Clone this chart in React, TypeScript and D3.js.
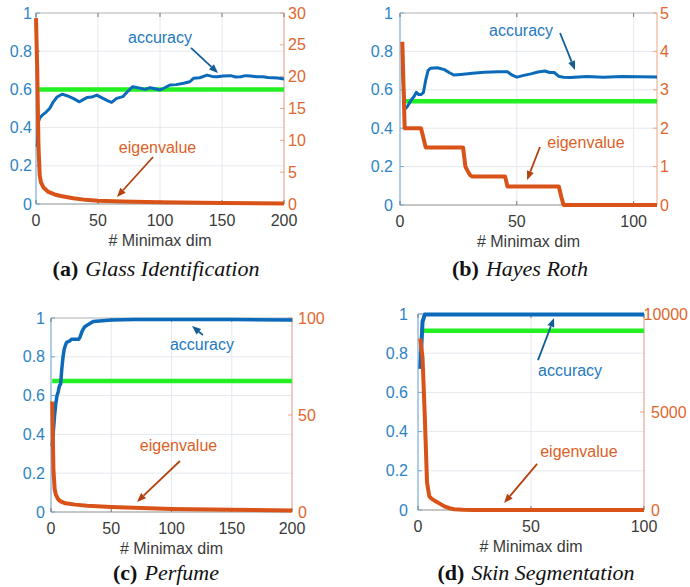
import React from 'react';
import * as d3 from 'd3';

// ---------------- data ----------------
// (a) Glass Identification
const glassAccX = [1, 2, 3, 5, 8, 11, 14, 17, 21, 25, 30, 35, 41, 45, 49, 54, 58, 61, 65, 70, 74, 78, 84, 88, 92, 96, 100, 103, 108, 113, 119, 124, 127, 132, 138, 142, 146, 151, 157, 161, 165, 169, 173, 178, 183, 187, 191, 195, 200];
const glassAccY = [0.30, 0.43, 0.45, 0.465, 0.48, 0.50, 0.535, 0.56, 0.575, 0.567, 0.553, 0.535, 0.557, 0.56, 0.57, 0.553, 0.54, 0.532, 0.553, 0.562, 0.59, 0.614, 0.606, 0.60, 0.609, 0.603, 0.597, 0.606, 0.623, 0.625, 0.632, 0.64, 0.658, 0.661, 0.675, 0.668, 0.666, 0.67, 0.672, 0.665, 0.666, 0.672, 0.67, 0.666, 0.666, 0.662, 0.661, 0.66, 0.655];
const glassEigX = [0, 1, 2, 3, 4, 6, 10, 15, 20, 30, 40, 50, 70, 100, 150, 200];
const glassEigY = [29.2, 21, 9, 4.5, 3.4, 2.6, 1.9, 1.5, 1.25, 0.9, 0.65, 0.5, 0.38, 0.28, 0.15, 0.08];
const glassBaseline = 0.6;
const glassBaselineX = [2, 200];
const glassXTicks = [0, 50, 100, 150, 200];
const glassRightTicks = [0, 5, 10, 15, 20, 25, 30];

// (b) Hayes Roth
const hayesAccX = [1, 2, 3, 4, 5, 6, 7, 8, 9, 10, 11, 12, 13, 16, 19, 21, 23, 26, 31, 36, 42, 46, 48, 50, 53, 56, 59, 62, 64, 66, 68, 70, 73, 80, 87, 95, 102, 110];
const hayesAccY = [0.72, 0.50, 0.51, 0.53, 0.55, 0.565, 0.587, 0.575, 0.575, 0.585, 0.65, 0.70, 0.712, 0.715, 0.705, 0.69, 0.677, 0.68, 0.686, 0.691, 0.694, 0.694, 0.676, 0.666, 0.675, 0.683, 0.693, 0.698, 0.69, 0.69, 0.67, 0.665, 0.664, 0.669, 0.666, 0.669, 0.668, 0.667];
const hayesEigX = [1, 2, 9, 10, 11, 27, 28, 29, 30, 31, 45, 46, 68, 69, 70, 110];
const hayesEigY = [4.25, 2.0, 2.0, 1.75, 1.5, 1.5, 1.0, 0.88, 0.78, 0.74, 0.74, 0.48, 0.48, 0.22, 0, 0];
const hayesBaseline = 0.54;
const hayesBaselineX = [2, 110];
const hayesXTicks = [0, 50, 100];
const hayesRightTicks = [0, 1, 2, 3, 4, 5];

// (c) Perfume
const perfumeAccX = [1, 2, 3, 4, 5, 6, 7, 8, 9, 10, 11, 12, 13, 15, 17, 20, 23, 24, 26, 28, 31, 35, 40, 50, 70, 100, 150, 200];
const perfumeAccY = [0.34, 0.42, 0.50, 0.56, 0.60, 0.62, 0.65, 0.66, 0.74, 0.80, 0.84, 0.86, 0.875, 0.88, 0.89, 0.89, 0.89, 0.90, 0.935, 0.955, 0.967, 0.982, 0.985, 0.99, 0.992, 0.992, 0.992, 0.99];
const perfumeEigX = [1, 2, 3, 4, 6, 8, 12, 20, 30, 50, 75, 100, 150, 200];
const perfumeEigY = [57, 22, 12, 9, 6.5, 5.5, 4.5, 3.8, 3.2, 2.6, 2.0, 1.6, 1.1, 0.8];
const perfumeBaseline = 0.675;
const perfumeBaselineX = [1, 200];
const perfumeXTicks = [0, 50, 100, 150, 200];
const perfumeRightTicks = [0, 50, 100];

// (d) Skin Segmentation
const skinAccX = [1, 2, 3, 100];
const skinAccY = [0.72, 0.96, 0.998, 0.998];
const skinEigX = [1, 2, 3, 4, 5, 6, 8, 10, 12, 14, 16, 20, 25, 100];
const skinEigY = [8750, 7800, 4800, 1400, 700, 580, 430, 300, 170, 90, 40, 10, 0, 0];
const skinBaseline = 0.915;
const skinBaselineX = [1, 100];
const skinXTicks = [0, 50, 100];
const skinRightTicks = [0, 5000, 10000];

const leftTicks = [0, 0.2, 0.4, 0.6, 0.8, 1];

// ---------------- style ----------------
const SANS = "'Liberation Sans', Arial, Helvetica, sans-serif";
const SERIF = "'Liberation Serif', 'Times New Roman', Times, serif";
const BLUE = '#0B6BBA';
const ORANGE = '#D95319';
const GREEN = '#22F022';
const BLUE_TXT = '#2C84C6';
const ORANGE_TXT = '#E0662C';
const GRID = '#E4E8EE';
const BOX = '#BDBDBD';
const ACC_ARROW = '#145E97';
const EIG_ARROW = '#B3420F';

type Ann = { tx: number; ty: number; ax1: number; ay1: number; ax2: number; ay2: number };

type PanelProps = {
  box: { l: number; r: number; t: number; b: number };
  xMax: number;
  xTicks: number[];
  rightMax: number;
  rightTicks: number[];
  accX: number[];
  accY: number[];
  eigX: number[];
  eigY: number[];
  base: number;
  baseX: number[];
  accAnn: Ann;
  eigAnn: Ann;
  capLabel: string;
  capText: string;
  capX: number;
  capY: number;
  leftGap: number;
  rightGap: number;
  accWidth: number;
};

function arrow(x1: number, y1: number, x2: number, y2: number, color: string, key: string) {
  const len = 9;
  const w = 3.6;
  const a = Math.atan2(y2 - y1, x2 - x1);
  const bx = x2 - len * Math.cos(a);
  const by = y2 - len * Math.sin(a);
  const px = -Math.sin(a) * w;
  const py = Math.cos(a) * w;
  return (
    <g key={key}>
      <line x1={x1} y1={y1} x2={bx} y2={by} stroke={color} strokeWidth={1.8} />
      <polygon points={`${x2},${y2} ${bx + px},${by + py} ${bx - px},${by - py}`} fill={color} />
    </g>
  );
}

function fmtLeft(v: number) {
  return v === 0 ? '0' : v === 1 ? '1' : String(v);
}

function Panel(p: PanelProps) {
  const { l, r, t, b } = p.box;
  const xs = d3.scaleLinear().domain([0, p.xMax]).range([l, r]);
  const ys = d3.scaleLinear().domain([0, 1]).range([b, t]);
  const yr = d3.scaleLinear().domain([0, p.rightMax]).range([b, t]);
  const accLine = d3.line<number>().x((_, i) => xs(p.accX[i])).y((d) => ys(d));
  const eigLine = d3.line<number>().x((_, i) => xs(p.eigX[i])).y((d) => yr(d));
  const tl = 4;
  return (
    <g>
      {/* grid */}
      {p.xTicks.map((v) => (
        <line key={'gx' + v} x1={xs(v)} x2={xs(v)} y1={t} y2={b} stroke={GRID} strokeWidth={1} />
      ))}
      {leftTicks.map((v) => (
        <line key={'gy' + v} x1={l} x2={r} y1={ys(v)} y2={ys(v)} stroke={GRID} strokeWidth={1} />
      ))}
      {/* box */}
      <line x1={l} x2={r} y1={t} y2={t} stroke={BOX} strokeWidth={1} />
      <line x1={l} x2={r} y1={b} y2={b} stroke={'#9a9a9a'} strokeWidth={1} />
      <line x1={l} x2={l} y1={t} y2={b} stroke={'#6FA8D8'} strokeWidth={1} />
      <line x1={r} x2={r} y1={t} y2={b} stroke={'#ECA582'} strokeWidth={1} />
      {/* tick marks */}
      {p.xTicks.map((v) => (
        <g key={'tx' + v}>
          <line x1={xs(v)} x2={xs(v)} y1={b} y2={b - tl} stroke="#777" />
          <line x1={xs(v)} x2={xs(v)} y1={t} y2={t + tl} stroke="#777" />
        </g>
      ))}
      {leftTicks.map((v) => (
        <line key={'tl' + v} x1={l} x2={l + tl} y1={ys(v)} y2={ys(v)} stroke="#6FA8D8" />
      ))}
      {p.rightTicks.map((v) => (
        <line key={'tr' + v} x1={r} x2={r - tl} y1={yr(v)} y2={yr(v)} stroke="#ECA582" />
      ))}
      {/* series */}
      <line
        x1={xs(p.baseX[0])}
        x2={xs(p.baseX[1])}
        y1={ys(p.base)}
        y2={ys(p.base)}
        stroke={GREEN}
        strokeWidth={4.5}
      />
      <path d={accLine(p.accY) || ''} fill="none" stroke={BLUE} strokeWidth={p.accWidth} strokeLinejoin="round" />
      <path d={eigLine(p.eigY) || ''} fill="none" stroke={ORANGE} strokeWidth={4} strokeLinejoin="round" />
      {/* annotations */}
      <text
        x={xs(p.accAnn.tx)}
        y={ys(p.accAnn.ty)}
        textAnchor="middle"
        dominantBaseline="central"
        fontFamily={SANS}
        fontSize={16}
        fill="#2479BF"
      >
        accuracy
      </text>
      {arrow(xs(p.accAnn.ax1), ys(p.accAnn.ay1), xs(p.accAnn.ax2), ys(p.accAnn.ay2), ACC_ARROW, 'aa')}
      <text
        x={xs(p.eigAnn.tx)}
        y={ys(p.eigAnn.ty)}
        textAnchor="middle"
        dominantBaseline="central"
        fontFamily={SANS}
        fontSize={16}
        fill="#DC5F26"
      >
        eigenvalue
      </text>
      {arrow(xs(p.eigAnn.ax1), ys(p.eigAnn.ay1), xs(p.eigAnn.ax2), ys(p.eigAnn.ay2), EIG_ARROW, 'ea')}
      {/* tick labels */}
      {leftTicks.map((v) => (
        <text
          key={'ll' + v}
          x={l - p.leftGap}
          y={ys(v)}
          textAnchor="end"
          dominantBaseline="central"
          fontFamily={SANS}
          fontSize={16}
          fill={BLUE_TXT}
        >
          {fmtLeft(v)}
        </text>
      ))}
      {p.rightTicks.map((v) => {
        const s = String(v);
        const w = s.length * 0.556 * 16;
        const x0 = r + p.rightGap;
        const overflow = x0 + w > 688;
        return (
          <text
            key={'rl' + v}
            x={overflow ? 688 : x0}
            y={yr(v)}
            textAnchor={overflow ? 'end' : 'start'}
            dominantBaseline="central"
            fontFamily={SANS}
            fontSize={16}
            fill={ORANGE_TXT}
          >
            {s}
          </text>
        );
      })}
      {p.xTicks.map((v) => (
        <text
          key={'xl' + v}
          x={xs(v)}
          y={b + 16}
          textAnchor="middle"
          dominantBaseline="central"
          fontFamily={SANS}
          fontSize={16}
          fill="#3a3a3a"
        >
          {v}
        </text>
      ))}
      <text
        x={(l + r) / 2}
        y={b + 36}
        textAnchor="middle"
        dominantBaseline="central"
        fontFamily={SANS}
        fontSize={16}
        fill="#3a3a3a"
      >
        # Minimax dim
      </text>
      {/* caption */}
      <text x={p.capX} y={p.capY} textAnchor="middle" fontFamily={SERIF} fontSize={22} fill="#111">
        <tspan fontWeight="bold">{p.capLabel}</tspan>
        <tspan dx={7} fontStyle="italic">
          {p.capText}
        </tspan>
      </text>
    </g>
  );
}

export default function App() {
  return (
    <svg
      width={690}
      height={587}
      viewBox="0 0 690 587"
      style={{ position: 'absolute', left: 0, top: 0, background: '#fff' }}
    >
      <rect x={0} y={0} width={690} height={587} fill="#fff" />
      <Panel
        box={{ l: 36, r: 284, t: 13, b: 204 }}
        xMax={200}
        xTicks={glassXTicks}
        rightMax={30}
        rightTicks={glassRightTicks}
        accX={glassAccX}
        accY={glassAccY}
        eigX={glassEigX}
        eigY={glassEigY}
        base={glassBaseline}
        baseX={glassBaselineX}
        accAnn={{ tx: 100, ty: 0.874, ax1: 125, ay1: 0.817, ax2: 146.8, ay2: 0.686 }}
        eigAnn={{ tx: 98, ty: 0.298, ax1: 94.4, ay1: 0.246, ax2: 65.3, ay2: 0.037 }}
        capLabel="(a)"
        capText="Glass Identification"
        capX={156}
        capY={276}
        leftGap={4}
        rightGap={4}
        accWidth={3}
      />
      <Panel
        box={{ l: 400, r: 657, t: 13, b: 205 }}
        xMax={110}
        xTicks={hayesXTicks}
        rightMax={5}
        rightTicks={hayesRightTicks}
        accX={hayesAccX}
        accY={hayesAccY}
        eigX={hayesEigX}
        eigY={hayesEigY}
        base={hayesBaseline}
        baseX={hayesBaselineX}
        accAnn={{ tx: 51.8, ty: 0.911, ax1: 68.5, ay1: 0.896, ax2: 74.9, ay2: 0.703 }}
        eigAnn={{ tx: 79.6, ty: 0.328, ax1: 59.9, ay1: 0.302, ax2: 54.4, ay2: 0.13 }}
        capLabel="(b)"
        capText="Hayes Roth"
        capX={520}
        capY={276}
        leftGap={7}
        rightGap={3}
        accWidth={3}
      />
      <Panel
        box={{ l: 51, r: 292, t: 318, b: 512 }}
        xMax={200}
        xTicks={perfumeXTicks}
        rightMax={100}
        rightTicks={perfumeRightTicks}
        accX={perfumeAccX}
        accY={perfumeAccY}
        eigX={perfumeEigX}
        eigY={perfumeEigY}
        base={perfumeBaseline}
        baseX={perfumeBaselineX}
        accAnn={{ tx: 125.3, ty: 0.861, ax1: 126.1, ay1: 0.912, ax2: 117, ay2: 0.959 }}
        eigAnn={{ tx: 105.8, ty: 0.345, ax1: 107, ay1: 0.263, ax2: 71.4, ay2: 0.052 }}
        capLabel="(c)"
        capText="Perfume"
        capX={166}
        capY={580}
        leftGap={6}
        rightGap={6}
        accWidth={3.5}
      />
      <Panel
        box={{ l: 418, r: 644, t: 314, b: 510 }}
        xMax={100}
        xTicks={skinXTicks}
        rightMax={10000}
        rightTicks={skinRightTicks}
        accX={skinAccX}
        accY={skinAccY}
        eigX={skinEigX}
        eigY={skinEigY}
        base={skinBaseline}
        baseX={skinBaselineX}
        accAnn={{ tx: 67.3, ty: 0.714, ax1: 53.1, ay1: 0.765, ax2: 60.2, ay2: 0.98 }}
        eigAnn={{ tx: 71.2, ty: 0.296, ax1: 52.7, ay1: 0.235, ax2: 38.1, ay2: 0.036 }}
        capLabel="(d)"
        capText="Skin Segmentation"
        capX={536}
        capY={580}
        leftGap={10}
        rightGap={7}
        accWidth={4}
      />
    </svg>
  );
}
